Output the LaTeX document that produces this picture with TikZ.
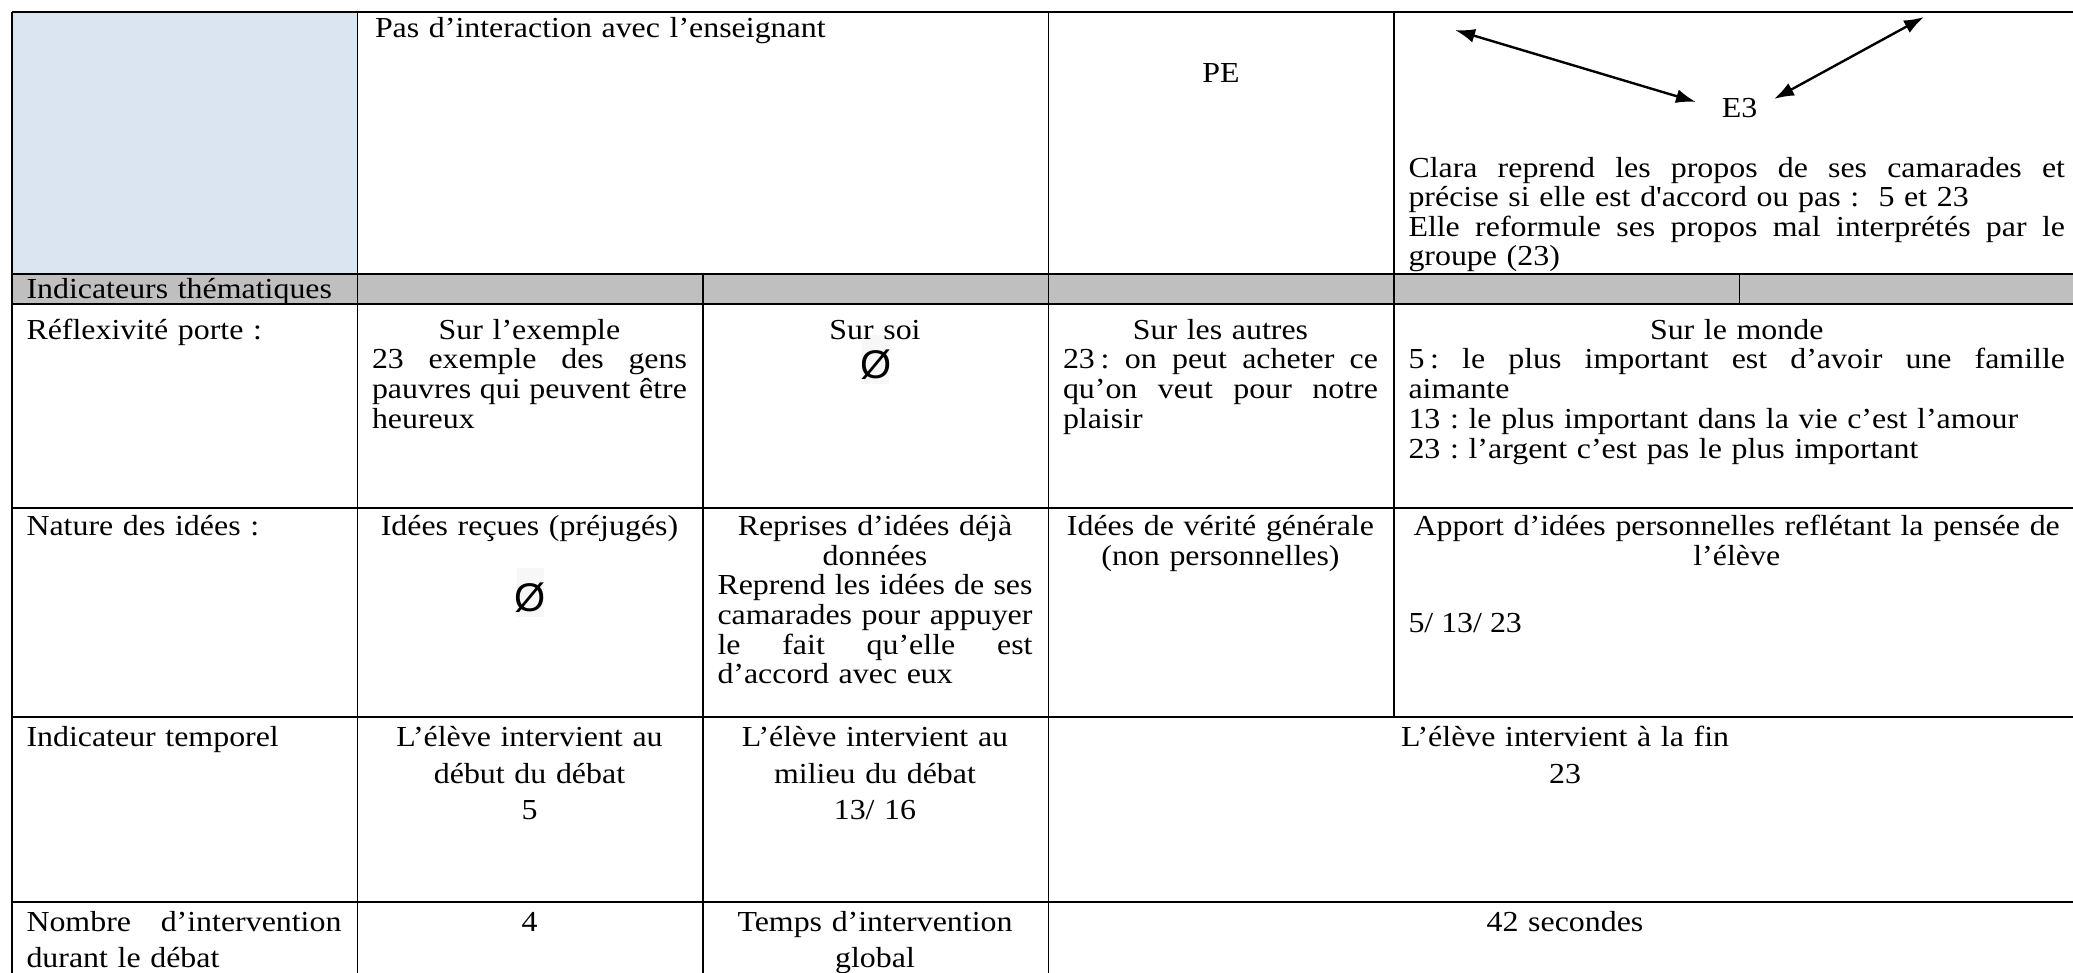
\documentclass[tikz,border=0pt]{standalone}
\usepackage{fontspec}
\setmainfont{Liberation Serif}[Ligatures=TeXOff, FakeStretch=1.1]
\newfontfamily\symsans{Liberation Sans}
\usetikzlibrary{arrows.meta}
\definecolor{cellblue}{HTML}{DBE5F1}
\definecolor{cellgray}{HTML}{BFBFBF}
\definecolor{faint}{HTML}{F7F7F7}
\def\cstrut{\vrule height 14.5pt depth 0pt width 0pt\relax}
\def\tightlines{\lineskiplimit=-1000pt\relax}
\newcommand\lineC[1]{\par\tightlines\hbox to\hsize{\hfil\cstrut #1\hfil}}
\newcommand\lineJ[1]{\par\tightlines\hbox to\hsize{\frenchspacing\spaceskip=\fontdimen2\font plus 1fil\relax\cstrut #1}}
\newcommand\lineL[1]{\par\tightlines\hbox to\hsize{\cstrut #1\hfil}}
\newcommand\nbs{\hspace{0.2em}}
\tikzset{
  cell/.style={anchor=north west, inner sep=0pt, outer sep=0pt, font=\fontsize{14.5}{14.85}\selectfont\frenchspacing},
  bskip/.style={font=\fontsize{14.5}{#1}\selectfont\frenchspacing},
  txt/.style={anchor=base, inner sep=0pt, outer sep=0pt, font=\fontsize{14.5}{14.85}\selectfont},
  wone/.style={text width=157.5pt},
  wtwo/.style={text width=328.25pt},
  wthree/.style={text width=502pt},
  hline/.style={line width=1pt, black},
  vline/.style={line width=0.75pt, black},
  arr/.style={{Latex[length=10pt,width=7pt]}-{Latex[length=10pt,width=7pt]}, line width=1.2pt},
  emptyset/.style={anchor=base, inner sep=0pt, font=\symsans\fontsize{20}{20}\selectfont},
  faintbox/.style={fill=faint}
}
\begin{document}
\begin{tikzpicture}[x=0.5pt,y=-0.5pt]
\useasboundingbox (0,0) rectangle (2073,973);
\clip (0,0) rectangle (2073,973);
% fills
\fill[cellblue] (12,12.5) rectangle (357.5,273.6);
\fill[cellgray] (12,273.6) rectangle (2085,303.7);
\fill[faintbox] (862,335) rectangle (889,384);
\fill[faintbox] (517,568) rectangle (544,617);
% horizontal rules
\foreach \yy in {12.5,273.6,303.7,507.6,717,902} {\draw[hline] (12,\yy) -- (2085,\yy);}
% vertical rules
\draw[vline] (12,12) -- (12,980);
\draw[vline] (357.5,12) -- (357.5,980);
\draw[vline] (703,273.6) -- (703,980);
\draw[vline] (1048.5,12) -- (1048.5,980);
\draw[vline] (1394,12) -- (1394,717);
\draw[vline] (1739.5,273.6) -- (1739.5,303.7);
% row 1
\node[cell,wtwo] (r1c1) at (375,7.5) {\lineL{Pas d’interaction avec l’enseignant}};
\node[txt] (pe) at (1221,82.5) {PE};
\node[txt] (e3) at (1739.5,117.5) {E3};
\node[cell,wtwo,bskip=14.75pt] (r1c4) at (1408.5,148) {%
  \lineJ{Clara reprend les propos de ses camarades et}%
  \lineL{précise si elle est d'accord ou pas :\ \ 5 et 23}%
  \lineJ{Elle reformule ses propos mal interprétés par le}%
  \lineL{groupe (23)}};
\coordinate (a1s) at (1455,30);
\coordinate (a1e) at (1696,102);
\coordinate (a2s) at (1774,99);
\coordinate (a2e) at (1924,17);
\draw[arr] (a1s) -- (a1e);
\draw[arr] (a2s) -- (a2e);
% gray row
\node[cell,wone] (g0) at (26.5,269) {\lineL{Indicateurs thématiques}};
% reflexivite row
\node[cell,wone] (rf0) at (26.5,309.5) {\lineL{Réflexivité porte :}};
\node[cell,wone] (rf1) at (372,309.5) {\lineC{Sur l’exemple}\lineJ{23 exemple des gens}\lineJ{pauvres qui peuvent être}\lineL{heureux}};
\node[cell,wone] (rf2) at (717.5,309.5) {\lineC{Sur soi}};
\node[emptyset] (rf2e) at (875.75,379) {Ø};
\node[cell,wone] (rf3) at (1063,309.5) {\lineC{Sur les autres}\lineJ{23\nbs: on peut acheter ce}\lineJ{qu’on veut pour notre}\lineL{plaisir}};
\node[cell,wtwo] (rf4) at (1408.5,309.5) {\lineC{Sur le monde}\lineJ{5\nbs: le plus important est d’avoir une famille}\lineL{aimante}\lineL{13 : le plus important dans la vie c’est l’amour}\lineL{23 : l’argent c’est pas le plus important}};
% nature row
\node[cell,wone,bskip=14.8pt] (na0) at (26.5,506) {\lineL{Nature des idées :}};
\node[cell,wone,bskip=14.8pt] (na1) at (372,506) {\lineC{Idées reçues (préjugés)}};
\node[emptyset] (na1e) at (530.5,611) {Ø};
\node[cell,wone,bskip=14.8pt] (na2) at (717.5,506) {\lineC{Reprises d’idées déjà}\lineC{données}\lineJ{Reprend les idées de ses}\lineJ{camarades pour appuyer}\lineJ{le fait qu’elle est}\lineL{d’accord avec eux}};
\node[cell,wone,bskip=14.8pt] (na3) at (1063,506) {\lineC{Idées de vérité générale}\lineC{(non personnelles)}};
\node[cell,wtwo,bskip=14.8pt] (na4) at (1408.5,506) {\lineC{Apport d’idées personnelles reflétant la pensée de}\lineC{l’élève}};
\node[txt, anchor=base west] (na4b) at (1408.5,632) {5/ 13/ 23};
% temporel row
\node[cell,wone,bskip=18.25pt] (te0) at (26.5,710.4) {\lineL{Indicateur temporel}};
\node[cell,wone,bskip=18.25pt] (te1) at (372,710.4) {\lineC{L’élève intervient au}\lineC{début du débat}\lineC{5}};
\node[cell,wone,bskip=18.25pt] (te2) at (717.5,710.4) {\lineC{L’élève intervient au}\lineC{milieu du débat}\lineC{13/ 16}};
\node[cell,wthree,bskip=18.25pt] (te3) at (1063,710.4) {\lineC{L’élève intervient à la fin}\lineC{23}};
% last row
\node[cell,wone,bskip=17.65pt] (la0) at (26.5,896.4) {\lineJ{Nombre d’intervention}\lineL{durant le débat}};
\node[cell,wone,bskip=17.65pt] (la1) at (372,896.4) {\lineC{4}};
\node[cell,wone,bskip=17.65pt] (la2) at (717.5,896.4) {\lineC{Temps d’intervention}\lineC{global}};
\node[cell,wthree,bskip=17.65pt] (la3) at (1063,896.4) {\lineC{42 secondes}};
\end{tikzpicture}
\end{document}
